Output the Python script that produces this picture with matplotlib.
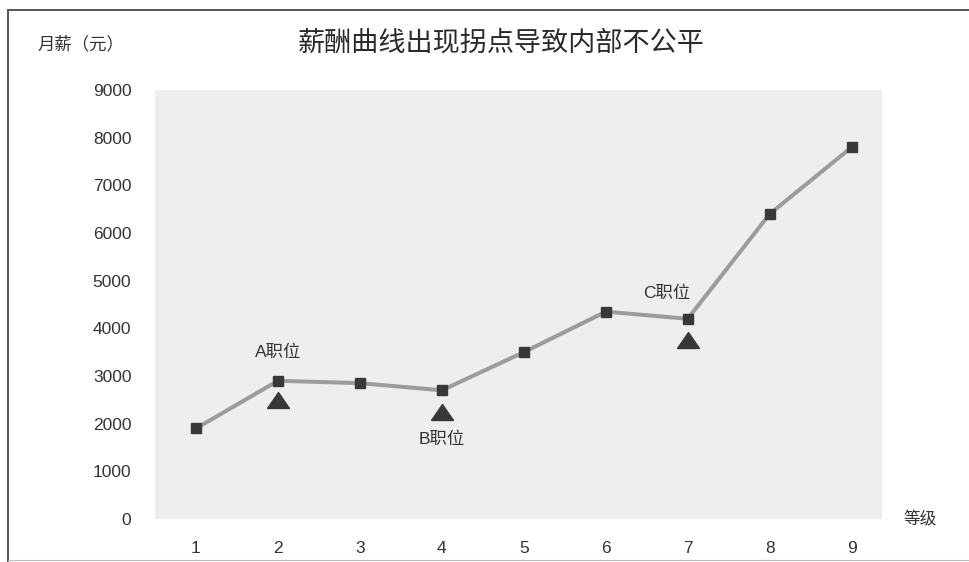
import matplotlib
matplotlib.use("Agg")
import matplotlib.pyplot as plt
from matplotlib import font_manager
from matplotlib.lines import Line2D

# Salary by grade
grades = [1, 2, 3, 4, 5, 6, 7, 8, 9]
salary = [1900, 2900, 2850, 2700, 3500, 4350, 4200, 6400, 7800]

# Positions flagged on the curve
flag_grades = [2, 4, 7]
flag_values = [2500, 2250, 3750]
flag_labels = ["A职位", "B职位", "C职位"]

y_ticks = [0, 1000, 2000, 3000, 4000, 5000, 6000, 7000, 8000, 9000]

names = {f.name for f in font_manager.fontManager.ttflist}
latin = "Liberation Sans" if "Liberation Sans" in names else "DejaVu Sans"
narrow = "Liberation Sans Narrow" if "Liberation Sans Narrow" in names else latin
cjk = "Noto Sans CJK SC"
plt.rcParams["font.family"] = [latin, cjk, "DejaVu Sans"]

text_col = "#333333"

fig = plt.figure(figsize=(9.69, 5.62), dpi=100)
fig.patch.set_facecolor("white")

ax = fig.add_axes([155 / 969, 1 - 519 / 562, 727 / 969, 429 / 562])
ax.set_facecolor("#eeeeee")

ax.plot(grades, salary, color="#9c9c9c", lw=2.9, zorder=2,
        solid_joinstyle="round")
ax.plot(grades, salary, ls="none", marker="s", ms=7.2,
        color="#383838", zorder=3)

tri = [(-1, -0.727), (1, -0.727), (0, 0.727), (-1, -0.727)]
ax.plot(flag_grades, flag_values, ls="none", marker=tri, ms=15.8,
        color="#383838", zorder=3)

# label placement: (dx, dy) in points, vertical alignment, anchored series
label_offsets = {"A职位": (0, 15, "bottom", "curve"),
                 "B职位": (0, -14, "top", "flag"),
                 "C职位": (-15, 13, "bottom", "curve")}
for i, (g, lab) in enumerate(zip(flag_grades, flag_labels)):
    dx, dy, va, anchor = label_offsets[lab]
    v = salary[grades.index(g)] if anchor == "curve" else flag_values[i]
    ax.annotate(lab, (g, v), xytext=(dx, dy), textcoords="offset points",
                ha="center", va=va, fontsize=12.5, color=text_col,
                family=[latin, cjk])

ax.set_xlim(0.5, 9.37)
ax.set_ylim(0, 9000)
ax.set_xticks(grades)
ax.set_xticklabels([str(g) for g in grades], family=narrow, fontsize=12.5,
                   color=text_col)
ax.set_yticks(y_ticks)
ax.set_yticklabels([str(t) for t in y_ticks], fontsize=12.5, color=text_col)
ax.tick_params(axis="x", length=0, pad=16)
ax.tick_params(axis="y", length=0, pad=17)
for s in ax.spines.values():
    s.set_visible(False)

fig.text(501 / 969, 1 - 43 / 562, "薪酬曲线出现拐点导致内部不公平",
         ha="center", va="center", fontsize=19.5, color="#2a2a2a",
         family=[cjk, "DejaVu Sans"])
fig.text(37 / 969, 1 - 44 / 562, "月薪（元）", ha="left", va="center",
         fontsize=12.5, color=text_col, family=[cjk, "DejaVu Sans"])
fig.text(920 / 969, 1 - 520 / 562, "等级", ha="center", va="center",
         fontsize=12, color=text_col, family=[cjk, "DejaVu Sans"])

# Outer frame (top and left rules, faint bottom rule)
fig.add_artist(Line2D([8 / 969, 1.0], [1 - 10 / 562, 1 - 10 / 562],
                      transform=fig.transFigure, color="#555555", lw=1.4))
fig.add_artist(Line2D([8 / 969, 8 / 969], [1 - 10 / 562, 0.0],
                      transform=fig.transFigure, color="#555555", lw=1.4))
fig.add_artist(Line2D([8 / 969, 1.0], [1 - 560 / 562, 1 - 560 / 562],
                      transform=fig.transFigure, color="#bbbbbb", lw=0.8))

fig.savefig("out.png", dpi=100, facecolor="white")
